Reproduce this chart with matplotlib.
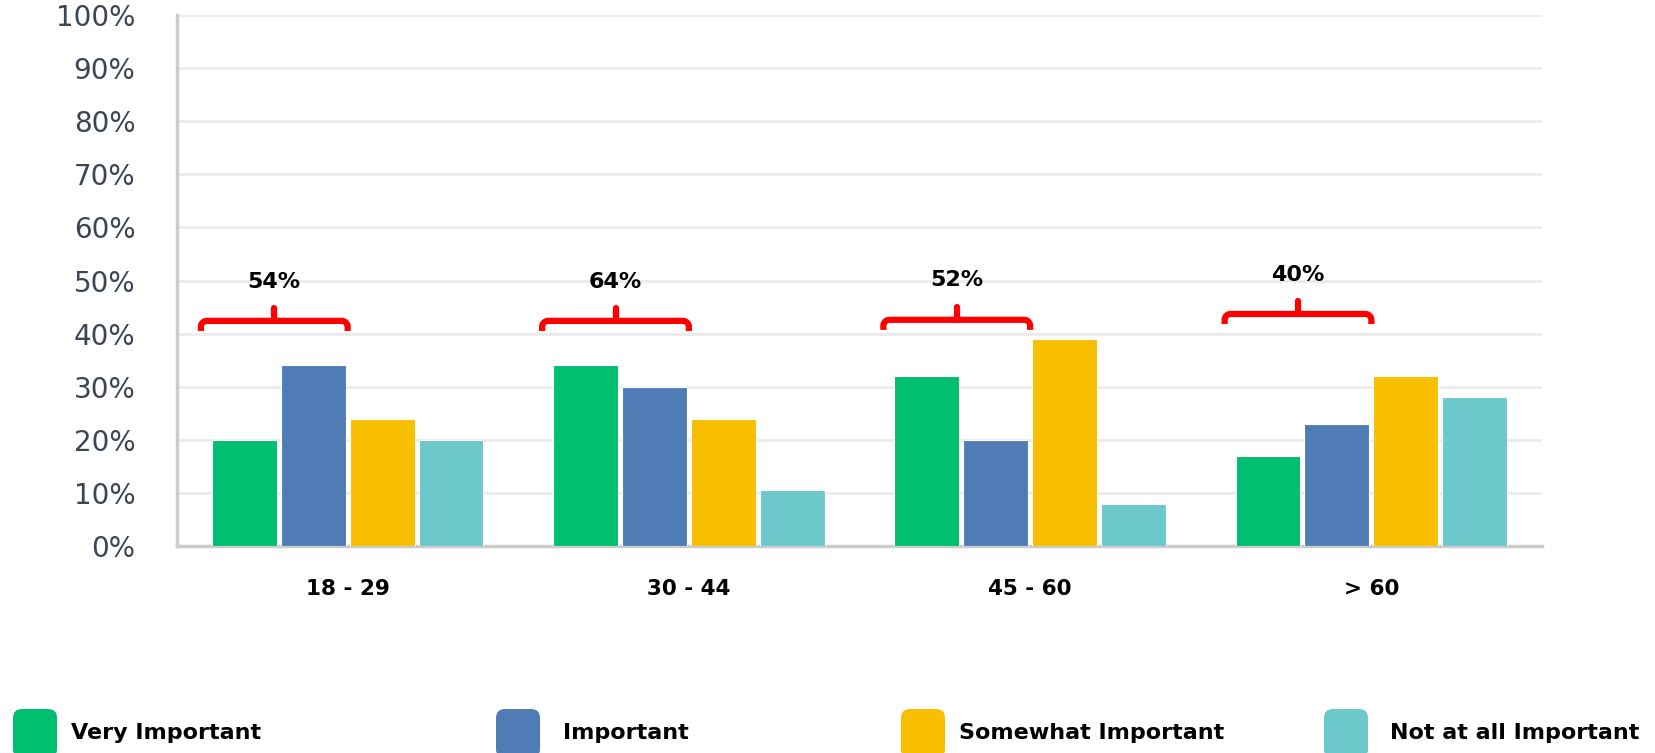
import matplotlib
matplotlib.use('Agg')
import matplotlib.pyplot as plt
import numpy as np
from matplotlib.patches import FancyBboxPatch

# data
age_groups = ['18 - 29', '30 - 44', '45 - 60', '> 60']
series_names = ['Very Important', 'Important', 'Somewhat Important', 'Not at all Important']
very_important = [20, 34, 32, 17]
important = [34, 30, 20, 23]
somewhat_important = [24, 24, 39, 32]
not_important = [20, 10.5, 8, 28]
bracket_labels = ['54%', '64%', '52%', '40%']

colors = ['#00BF6F', '#507CB6', '#F8BE00', '#6CC8CB']
series = [very_important, important, somewhat_important, not_important]

fig = plt.figure(figsize=(16.56, 7.53), dpi=100)
ax = fig.add_axes([177/1656, 1-546/753, (1542-177)/1656, (546-15)/753])

x = np.arange(len(age_groups))
slot = 0.202
for i, vals in enumerate(series):
    ax.bar(x + (i-1.5)*slot, vals, width=0.19, color=colors[i],
           edgecolor='white', linewidth=0.8, zorder=3)

ax.set_xlim(-0.5, len(age_groups)-0.5)
ax.set_ylim(0, 100)
ax.set_yticks(np.arange(0, 101, 10))
ax.set_yticklabels(['%d%%' % v for v in range(0, 101, 10)],
                   fontsize=20, color='#3c4553')
ax.set_xticks(x)
ax.set_xticklabels(age_groups, fontsize=15.5, fontweight='bold', color='black')
ax.tick_params(axis='y', length=0, pad=30)
ax.tick_params(axis='x', length=0, pad=24)
ax.grid(axis='y', color='#ebebeb', linewidth=2, zorder=0)
for s in ['top', 'right']:
    ax.spines[s].set_visible(False)
for s in ['left', 'bottom']:
    ax.spines[s].set_color('#cccccc')
    ax.spines[s].set_linewidth(2.5)

# red brackets over the first two bars of each group
bracket_y = [42.4, 42.4, 42.6, 43.7]
rx, ry = 0.018, 1.1   # corner radius in data units (about 6 px)
t = np.linspace(0, np.pi/2, 8)
for i, lab in enumerate(bracket_labels):
    x0, x1 = i - 0.43, i + 0.0
    xm = (x0 + x1) / 2
    y = bracket_y[i]
    # left leg, rounded corner, top, rounded corner, right leg
    lx = np.concatenate([[x0], x0 + rx - rx*np.cos(t), x1 - rx + rx*np.sin(t), [x1]])
    ly = np.concatenate([[y-1.9], y - ry + ry*np.sin(t), y - ry + ry*np.cos(t), [y-1.9]])
    ax.plot(lx, ly, color='#ff0000', linewidth=4.5, solid_joinstyle='round',
            solid_capstyle='butt', zorder=4)
    ax.plot([xm, xm], [y, y+2.5], color='#ff0000', linewidth=4.5,
            solid_capstyle='round', zorder=4)
    ax.text(xm, y+7.4, lab, ha='center', va='center', fontsize=16,
            fontweight='bold', color='black')

# legend drawn by hand
legend_x = [13, 496, 901, 1324]
text_x = [71, 563, 959, 1390]
for i, name in enumerate(series_names):
    box = FancyBboxPatch((legend_x[i]/100, -0.05), 0.44, 0.49,
                         boxstyle='round,pad=0,rounding_size=0.09',
                         transform=fig.dpi_scale_trans, facecolor=colors[i],
                         edgecolor='none')
    fig.patches.append(box)
    fig.text(text_x[i]/1656, 1-733/753, name, ha='left', va='center',
             fontsize=16, fontweight='bold', color='black')

fig.savefig('out.png', dpi=100)
